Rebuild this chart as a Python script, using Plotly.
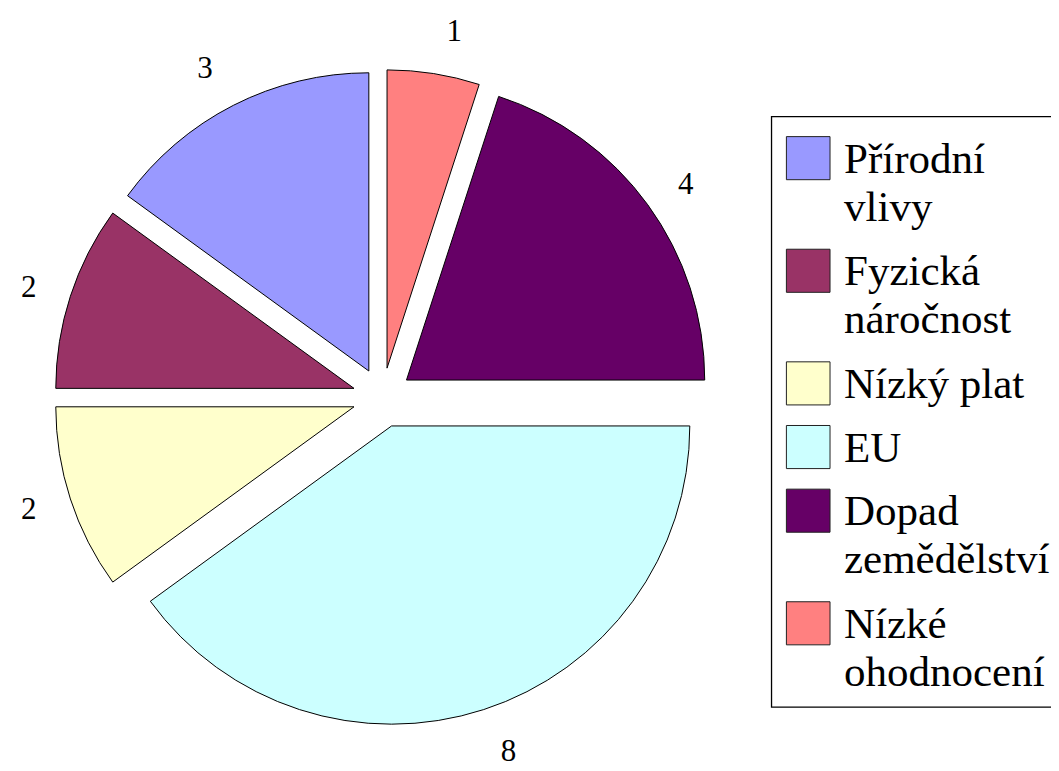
import plotly.graph_objects as go

# ---- data ----
categories = ["Přírodní vlivy", "Fyzická náročnost", "Nízký plat", "EU",
              "Dopad zemědělství", "Nízké ohodnocení"]
values = [3, 2, 2, 8, 4, 1]
legend_lines = [["Přírodní", "vlivy"], ["Fyzická", "náročnost"], ["Nízký plat"],
                ["EU"], ["Dopad", "zemědělství"], ["Nízké", "ohodnocení"]]
colors = ["#9999FF", "#993366", "#FFFFCC", "#CCFFFF", "#660066", "#FF8080"]

W, H = 1059, 771
OFF = 8  # page body margin offset compensation
FONT = "Liberation Serif"


def px_x(v):
    return (v - OFF) / W


def px_y(v):
    return 1 - (v - OFF) / H


fig = go.Figure()

# main exploded pie
fig.add_trace(go.Pie(
    labels=categories, values=values, sort=False,
    direction="counterclockwise", rotation=-54,
    pull=[0.1] * len(values),
    marker=dict(colors=colors, line=dict(color="#000000", width=1)),
    textinfo="none", hoverinfo="label+value",
    domain=dict(x=[px_x(41.5), px_x(711.5)], y=[px_y(724.5), px_y(54.5)]),
    showlegend=False,
))

# transparent overlay pie, only used to place the value labels further out
fig.add_trace(go.Pie(
    labels=categories, values=values, sort=False,
    direction="counterclockwise", rotation=-54,
    marker=dict(colors=["rgba(0,0,0,0)"] * len(values), line=dict(width=0)),
    textinfo="value", textposition="outside",
    outsidetextfont=dict(family=FONT, size=31, color="#000000"),
    hoverinfo="skip",
    domain=dict(x=[px_x(14.5), px_x(738.5)], y=[px_y(751.5), px_y(27.5)]),
    showlegend=False,
))

shapes = []
annotations = []

# legend frame
shapes.append(dict(type="rect", xref="paper", yref="paper",
                   x0=px_x(769), x1=1.02, y0=px_y(705.5), y1=px_y(102.5),
                   line=dict(color="#000000", width=1.3), fillcolor="rgba(0,0,0,0)"))

y_top = 123
line_h = 49
sq = 44
for lines, col in zip(legend_lines, colors):
    shapes.append(dict(type="rect", xref="paper", yref="paper",
                       x0=px_x(784), x1=px_x(784 + sq),
                       y0=px_y(y_top + sq), y1=px_y(y_top),
                       line=dict(color="#222222", width=1), fillcolor=col))
    for i, txt in enumerate(lines):
        yc = y_top + sq / 2 + i * line_h
        annotations.append(dict(text=txt, xref="paper", yref="paper",
                                x=px_x(840), y=px_y(yc), xanchor="left", yanchor="middle",
                                showarrow=False,
                                font=dict(family=FONT, size=43, color="#000000")))
    y_top += len(lines) * 50 + 15

fig.update_layout(
    width=W, height=H,
    margin=dict(l=0, r=0, t=0, b=0),
    paper_bgcolor="#FFFFFF", plot_bgcolor="#FFFFFF",
    shapes=shapes, annotations=annotations,
    font=dict(family=FONT),
)

fig.write_html("out.html")
